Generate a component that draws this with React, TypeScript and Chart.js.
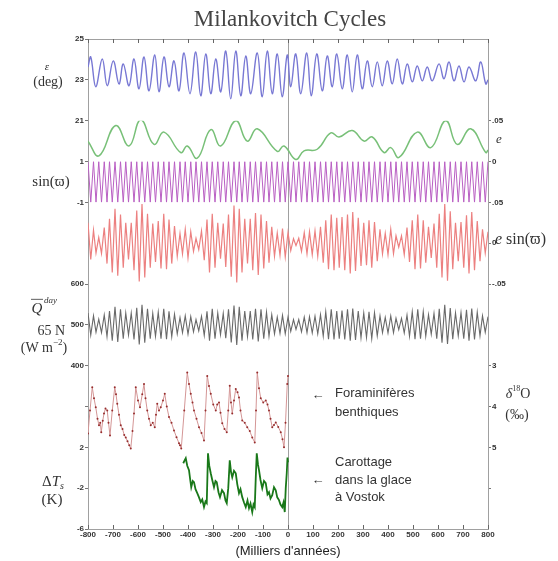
import { useEffect, useRef } from "react";
import { Chart, registerables } from "chart.js";
Chart.register(...registerables);

// ---------- data (kyr, negative = past) ----------
const X_OBL = [-800, -789, -769, -743, -723, -699, -676, -659, -636, -616, -596, -576, -556, -533, -516, -496, -476, -456, -436, -416, -392, -369, -349, -329, -309, -289, -269, -249, -229, -209, -189, -169, -149, -123, -103, -83, -63, -43, -23, -3, 11, 31, 51, 75, 93, 115, 137, 157, 177, 195, 217, 237, 257, 277, 297, 317, 337, 357, 377, 397, 417, 437, 457, 477, 497, 517, 537, 557, 577, 604, 624, 644, 664, 684, 704, 724, 751, 771, 791, 800];
const OBLIQUITY = [23.63, 24.12, 22.66, 24.02, 22.71, 23.93, 22.80, 23.78, 22.71, 24.02, 22.56, 24.12, 22.46, 24.22, 22.41, 24.12, 22.66, 23.93, 22.46, 24.32, 22.32, 24.37, 22.22, 24.27, 22.32, 24.02, 22.41, 24.41, 22.07, 24.41, 22.22, 24.17, 22.32, 24.32, 22.17, 24.41, 22.32, 24.27, 22.17, 24.22, 22.66, 24.27, 22.32, 24.32, 22.22, 24.27, 22.46, 24.17, 22.66, 24.27, 22.56, 24.22, 22.41, 24.22, 22.56, 23.93, 22.66, 23.88, 22.71, 23.93, 22.80, 24.02, 22.80, 23.78, 22.90, 23.68, 22.95, 23.63, 22.95, 23.78, 23.05, 23.88, 22.95, 23.68, 22.90, 23.63, 22.95, 23.88, 22.80, 23.0];

const X_ECC = [-800, -756, -689, -636, -589, -536, -496, -429, -403, -363, -309, -269, -209, -163, -123, -43, -16, 31, 64, 117, 171, 204, 257, 304, 337, 384, 411, 444, 517, 571, 631, 677, 731, 791, 800];
const ECCENTRICITY = [0.025, 0.007, 0.044, 0.019, 0.051, 0.021, 0.036, 0.011, 0.019, 0.004, 0.039, 0.019, 0.050, 0.025, 0.040, 0.0125, 0.019, 0.0025, 0.013, 0.015, 0.035, 0.030, 0.038, 0.025, 0.030, 0.011, 0.017, 0.005, 0.036, 0.017, 0.050, 0.021, 0.040, 0.011, 0.014];

const X_PREC = [-800, -789, -778, -768, -757, -746, -735, -724, -714, -703, -692, -681, -670, -659, -649, -638, -627, -616, -605, -595, -584, -573, -562, -551, -541, -530, -519, -508, -497, -486, -476, -465, -454, -443, -432, -422, -411, -400, -389, -378, -368, -357, -346, -335, -324, -314, -303, -292, -281, -270, -259, -249, -238, -227, -216, -205, -195, -184, -173, -162, -151, -141, -130, -119, -108, -97, -86, -76, -65, -54, -43, -32, -22, -11, 0, 11, 22, 32, 43, 54, 65, 76, 86, 97, 108, 119, 130, 141, 151, 162, 173, 184, 195, 205, 216, 227, 238, 249, 259, 270, 281, 292, 303, 314, 324, 335, 346, 357, 368, 378, 389, 400, 411, 422, 432, 443, 454, 465, 476, 486, 497, 508, 519, 530, 541, 551, 562, 573, 584, 595, 605, 616, 627, 638, 649, 659, 670, 681, 692, 703, 714, 724, 735, 746, 757, 768, 778, 789, 800];
const SIN_VARPI = [1, -1, 1, -1, 1, -1, 1, -1, 1, -1, 1, -1, 1, -1, 1, -1, 1, -1, 1, -1, 1, -1, 1, -1, 1, -1, 1, -1, 1, -1, 1, -1, 1, -1, 1, -1, 1, -1, 1, -1, 1, -1, 1, -1, 1, -1, 1, -1, 1, -1, 1, -1, 1, -1, 1, -1, 1, -1, 1, -1, 1, -1, 1, -1, 1, -1, 1, -1, 1, -1, 1, -1, 1, -1, 1, -1, 1, -1, 1, -1, 1, -1, 1, -1, 1, -1, 1, -1, 1, -1, 1, -1, 1, -1, 1, -1, 1, -1, 1, -1, 1, -1, 1, -1, 1, -1, 1, -1, 1, -1, 1, -1, 1, -1, 1, -1, 1, -1, 1, -1, 1, -1, 1, -1, 1, -1, 1, -1, 1, -1, 1, -1, 1, -1, 1, -1, 1, -1, 1, -1, 1, -1, 1, -1, 1, -1, 1, -1, 1];
const E_SIN_VARPI = [0.025, -0.020, 0.016, -0.012, 0.007, -0.0125, 0.019, -0.025, 0.030, -0.036,
  0.042, -0.040, 0.035, -0.030, 0.025, -0.020, 0.025, -0.033, 0.040, -0.047,
  0.048, -0.042, 0.036, -0.030, 0.024, -0.023, 0.027, -0.031, 0.036, -0.032,
  0.029, -0.025, 0.021, -0.016, 0.012, -0.013, 0.017, -0.018, 0.014, -0.010,
  0.006, -0.008, 0.015, -0.021, 0.029, -0.036, 0.036, -0.030, 0.025, -0.019,
  0.024, -0.029, 0.035, -0.041, 0.046, -0.048, 0.042, -0.036, 0.030, -0.025,
  0.030, -0.033, 0.037, -0.039, 0.035, -0.031, 0.027, -0.024, 0.020, -0.016,
  0.0125, -0.015, 0.018, -0.017, 0.013, -0.009, 0.0055, -0.003, 0.006, -0.010,
  0.013, -0.013, 0.014, -0.014, 0.015, -0.016, 0.020, -0.024, 0.028, -0.032,
  0.035, -0.033, 0.031, -0.030, 0.032, -0.033, 0.035, -0.037, 0.038, -0.034,
  0.031, -0.028, 0.025, -0.027, 0.028, -0.030, 0.026, -0.022, 0.017, -0.013,
  0.012, -0.014, 0.017, -0.013, 0.009, -0.005, 0.009, -0.014, 0.019, -0.023,
  0.028, -0.032, 0.035, -0.031, 0.028, -0.024, 0.020, -0.018, 0.024, -0.030,
  0.036, -0.042, 0.048, -0.046, 0.039, -0.032, 0.025, -0.022, 0.026, -0.030,
  0.034, -0.037, 0.038, -0.033, 0.027, -0.022, 0.017, -0.012, 0.014];
const Q_DAY = [529, 475, 522, 482, 514, 481, 524, 471, 534, 461,
  544, 458, 538, 466, 529, 475, 529, 464, 542, 452,
  549, 456, 539, 466, 528, 472, 531, 466, 539, 465,
  533, 471, 526, 478, 518, 481, 522, 477, 520, 483,
  513, 485, 521, 474, 533, 461, 539, 466, 529, 476,
  528, 467, 538, 457, 547, 451, 544, 461, 534, 471,
  534, 464, 539, 459, 538, 466, 531, 472, 525, 478,
  519, 479, 523, 478, 519, 484, 513, 489, 513, 483,
  519, 481, 520, 480, 521, 478, 525, 472, 532, 465,
  538, 464, 534, 466, 535, 464, 538, 461, 540, 463,
  534, 468, 529, 469, 532, 466, 530, 473, 522, 481,
  518, 480, 522, 481, 516, 488, 516, 480, 524, 472,
  532, 465, 538, 466, 532, 472, 525, 477, 528, 466,
  539, 456, 549, 453, 541, 465, 529, 473, 530, 466,
  537, 461, 540, 464, 531, 473, 522, 482, 520];

const X_D18O = [-800, -792, -783, -776, -769, -762, -756, -751, -747, -741, -736, -730, -723, -718, -712, -703, -693, -688, -683, -676, -669, -662, -655, -649, -642, -635, -629, -622, -616, -609, -600, -592, -583, -576, -570, -563, -556, -549, -541, -533, -528, -523, -516, -509, -500, -493, -485, -476, -466, -456, -446, -436, -432, -427, -415, -403, -396, -389, -382, -376, -366, -356, -346, -336, -330, -323, -316, -309, -299, -289, -283, -276, -270, -263, -254, -245, -239, -233, -228, -223, -216, -209, -202, -196, -190, -183, -173, -163, -153, -143, -133, -128, -123, -116, -109, -99, -89, -82, -76, -70, -63, -56, -49, -39, -29, -22, -16, -10, -3, 0];
const D18O = [4.66, 4.10, 3.53, 3.80, 4.02, 4.30, 4.46, 4.40, 4.63, 4.35, 4.17, 4.05, 4.10, 4.40, 4.71, 4.10, 3.53, 3.70, 3.93, 4.20, 4.46, 4.55, 4.70, 4.76, 4.85, 4.95, 5.03, 4.60, 4.17, 3.53, 3.85, 4.02, 3.70, 3.45, 3.80, 4.10, 4.30, 4.46, 4.40, 4.51, 4.20, 3.93, 4.10, 4.02, 3.85, 3.69, 4.00, 4.26, 4.40, 4.59, 4.75, 4.90, 4.95, 5.03, 4.10, 3.17, 3.45, 3.69, 3.90, 4.10, 4.30, 4.51, 4.65, 4.83, 4.10, 3.25, 3.50, 3.69, 3.95, 4.10, 3.95, 3.90, 4.15, 4.41, 4.55, 4.63, 4.10, 3.49, 3.90, 4.17, 3.85, 3.57, 3.65, 3.78, 4.10, 4.34, 4.40, 4.51, 4.60, 4.76, 4.88, 4.10, 3.17, 3.55, 3.80, 3.90, 3.85, 3.95, 4.10, 4.30, 4.51, 4.45, 4.39, 4.50, 4.63, 4.80, 5.00, 4.40, 3.45, 3.25];

const X_VOSTOK = [-419, -414, -409, -403, -396, -391, -387, -381, -376, -370, -363, -356, -349, -343, -336, -330, -325, -320, -315, -309, -303, -296, -290, -285, -278, -272, -264, -256, -250, -245, -239, -233, -228, -223, -216, -209, -203, -196, -190, -183, -176, -169, -162, -156, -150, -143, -138, -133, -129, -125, -120, -116, -110, -103, -96, -89, -82, -76, -70, -63, -56, -49, -43, -36, -30, -23, -18, -13, -9, -5, -2, 0];
const DELTA_T = [0.44, 0.7, 0.93, 0.2, -0.24, -1.2, -1.90, -1.3, -1.41, -2.1, -2.49, -2.9, -3.37, -3.1, -3.85, -3.3, -3.46, 1.41, 0.2, -0.54, -1.2, -1.90, -1.3, -1.41, -2.4, -2.88, -2.2, -2.49, -3.2, -3.46, -2.0, 0.73, -0.4, -0.93, -0.3, -0.54, -1.6, -2.49, -2.1, -2.88, -3.4, -3.85, -3.2, -3.95, -3.5, -4.34, -3.6, -3.85, -1.0, 1.41, 0.3, -0.24, -1.2, -2.0, -1.3, -1.51, -2.6, -2.39, -3.0, -2.68, -1.9, -2.20, -2.9, -3.17, -3.6, -3.85, -3.4, -4.34, -2.0, -0.54, 1.0, 0.54];

const pts = (xs: number[], ys: number[]) => xs.map((x, i) => ({ x, y: ys[i] }));

const SANS = "'Liberation Sans', Arial, sans-serif";
const SERIF = "'Liberation Serif', 'DejaVu Serif', serif";
const TICK_FONT = { family: SANS, size: 8, weight: "bold" as const };
const TEXT = "#333";

const fmtSmall = (v: number) => {
  const r = Math.round(v * 1000) / 1000;
  if (r === 0) return "0";
  const s = String(Math.abs(r)).replace(/^0/, "");
  return (r < 0 ? "-" : "") + s;
};

function yAxis(opts: any) {
  const left = opts.position === "left";
  return {
    type: "linear",
    position: opts.position,
    stack: left ? "L" : "R",
    stackWeight: opts.stackWeight,
    weight: opts.weight,
    min: opts.min,
    max: opts.max,
    reverse: !!opts.reverse,
    display: opts.display !== false,
    afterFit: (s: any) => { s.width = left ? 24 : 22; },
    border: { display: false },
    grid: { display: true, drawOnChartArea: false, drawTicks: true, tickLength: 3, color: "#777" },
    ticks: {
      stepSize: opts.step,
      font: TICK_FONT,
      color: TEXT,
      padding: 1,
      callback: opts.callback || ((v: number) => String(v)),
    },
  };
}

const decor = {
  id: "decor",
  beforeDatasetsDraw(chart: any) {
    const { ctx, chartArea: ca } = chart;
    const xs = chart.scales.x;
    ctx.save();
    ctx.strokeStyle = "#a0a0a0";
    ctx.lineWidth = 1;
    ctx.strokeRect(ca.left + 0.5, ca.top + 0.5, ca.right - ca.left, ca.bottom - ca.top);
    const x0 = Math.round(xs.getPixelForValue(0)) + 0.5;
    ctx.beginPath();
    ctx.moveTo(x0, ca.top);
    ctx.lineTo(x0, ca.bottom);
    ctx.stroke();
    ctx.strokeStyle = "#666";
    ctx.beginPath();
    for (const t of xs.ticks) {
      const px = Math.round(xs.getPixelForValue(t.value)) + 0.5;
      ctx.moveTo(px, ca.bottom);
      ctx.lineTo(px, ca.bottom - 4);
      ctx.moveTo(px, ca.top);
      ctx.lineTo(px, ca.top + 4);
    }
    ctx.stroke();
    ctx.restore();
  },
  afterDraw(chart: any) {
    const { ctx, chartArea: ca, scales } = chart;
    const L = ca.left;
    const R = ca.right;
    const t = (s: string, x: number, y: number, font: string, align: CanvasTextAlign = "center") => {
      ctx.font = font;
      ctx.textAlign = align;
      ctx.fillText(s, x, y);
    };
    ctx.save();
    ctx.fillStyle = TEXT;
    ctx.textBaseline = "middle";

    // title
    ctx.fillStyle = "#444";
    t("Milankovitch Cycles", (L + R) / 2 + 2, ca.top - 19, `23px ${SERIF}`);
    ctx.fillStyle = TEXT;

    // obliquity
    const yo = scales.yObl.getPixelForValue(23);
    t("ε", L - 41, yo - 13, `italic 11px ${SERIF}`);
    t("(deg)", L - 40, yo + 2, `14px ${SERIF}`);

    // sin(varpi)
    t("sin(ϖ)", L - 37, scales.ySin.getPixelForValue(0), `15px ${SERIF}`);

    // Q day
    const yq = scales.yQ.getPixelForValue(500);
    t("Q", L - 51, yq - 16, `italic 15px ${SERIF}`);
    ctx.strokeStyle = TEXT;
    ctx.lineWidth = 0.8;
    ctx.beginPath();
    ctx.moveTo(L - 57, yq - 25.5);
    ctx.lineTo(L - 45, yq - 25.5);
    ctx.stroke();
    t("day", L - 44, yq - 24, `italic 9px ${SERIF}`, "left");
    t("65 N", L - 23, yq + 6, `14px ${SERIF}`, "right");
    {
      ctx.font = `14px ${SERIF}`;
      const a = "(W m";
      const b = "−2";
      const c = ")";
      const wa = ctx.measureText(a).width;
      ctx.font = `9px ${SERIF}`;
      const wb = ctx.measureText(b).width;
      ctx.font = `14px ${SERIF}`;
      const wc = ctx.measureText(c).width;
      let x = L - 44 - (wa + wb + wc) / 2;
      t(a, x, yq + 23, `14px ${SERIF}`, "left");
      x += wa;
      t(b, x, yq + 18, `9px ${SERIF}`, "left");
      x += wb;
      t(c, x, yq + 23, `14px ${SERIF}`, "left");
    }

    // Delta T
    const yt = scales.yDT.getPixelForValue(-2);
    {
      ctx.font = `15px ${SERIF}`;
      const wd = ctx.measureText("Δ").width;
      ctx.font = `italic 15px ${SERIF}`;
      const wt = ctx.measureText("T").width;
      let x = L - 46;
      t("Δ", x, yt - 6, `15px ${SERIF}`, "left");
      x += wd;
      t("T", x, yt - 6, `italic 15px ${SERIF}`, "left");
      x += wt;
      t("s", x, yt - 2, `italic 10px ${SERIF}`, "left");
    }
    t("(K)", L - 36, yt + 12, `15px ${SERIF}`);

    // right side labels
    t("e", R + 11, scales.yE.getPixelForValue(0.025) - 2, `italic 13px ${SERIF}`);
    {
      const y = scales.yES.getPixelForValue(0) - 3;
      let x = R + 7;
      ctx.font = `italic 16px ${SERIF}`;
      const we = ctx.measureText("e ").width;
      t("e", x, y, `italic 16px ${SERIF}`, "left");
      x += we;
      t("sin(ϖ)", x, y, `16px ${SERIF}`, "left");
    }
    {
      const y = scales.yD18.getPixelForValue(3.7);
      ctx.font = `italic 14px ${SERIF}`;
      const w1 = ctx.measureText("δ").width;
      ctx.font = `8px ${SERIF}`;
      const w2 = ctx.measureText("18").width;
      ctx.font = `14px ${SERIF}`;
      const w3 = ctx.measureText("O").width;
      let x = R + 30 - (w1 + w2 + w3) / 2;
      t("δ", x, y, `italic 14px ${SERIF}`, "left");
      x += w1;
      t("18", x, y - 5, `8px ${SERIF}`, "left");
      x += w2;
      t("O", x, y, `14px ${SERIF}`, "left");
      t("(‰)", R + 29, scales.yD18.getPixelForValue(4.2) + 1, `14px ${SERIF}`);
    }

    // annotations
    const xs = scales.x;
    const ax = xs.getPixelForValue(120);
    const tx = xs.getPixelForValue(188);
    const f = `13px ${SANS}`;
    const yd = scales.yD18;
    ctx.fillStyle = "#333";
    t("←", ax, yd.getPixelForValue(3.73), f);
    t("Foraminifères", tx, yd.getPixelForValue(3.68), f, "left");
    t("benthiques", tx, yd.getPixelForValue(4.15), f, "left");
    const yv = scales.yDT;
    t("←", ax, yv.getPixelForValue(-1.22), f);
    t("Carottage", tx, yv.getPixelForValue(0.54), f, "left");
    t("dans la glace", tx, yv.getPixelForValue(-1.22), f, "left");
    t("à Vostok", tx, yv.getPixelForValue(-2.88), f, "left");
    ctx.restore();
  },
};

export default function App() {
  const ref = useRef<HTMLCanvasElement>(null);
  useEffect(() => {
    document.body.style.margin = "0";
    const line = (label: string, data: any[], yAxisID: string, color: string, width: number, extra: any = {}) => ({
      label, data, yAxisID, borderColor: color, borderWidth: width, pointRadius: 0, fill: false, ...extra,
    });
    const chart = new Chart(ref.current!, {
      type: "line",
      data: {
        datasets: [
          line("obliquity", pts(X_OBL, OBLIQUITY), "yObl", "rgb(120,120,212)", 1.4, { tension: 0.4 }),
          line("e", pts(X_ECC, ECCENTRICITY), "yE", "rgb(120,192,120)", 1.5, { tension: 0.45 }),
          line("sin", pts(X_PREC, SIN_VARPI), "ySin", "rgb(185,95,195)", 1),
          line("esin", pts(X_PREC, E_SIN_VARPI), "yES", "rgb(236,128,128)", 1.2),
          line("Q", pts(X_PREC, Q_DAY), "yQ", "rgb(105,105,105)", 1.1),
          line("d18O", pts(X_D18O, D18O), "yD18", "rgb(212,150,150)", 1, {
            pointRadius: 1, pointBackgroundColor: "rgb(150,45,45)", pointBorderWidth: 0,
          }),
          line("dT", pts(X_VOSTOK, DELTA_T), "yDT", "rgb(25,120,25)", 1.8),
        ],
      },
      options: {
        responsive: false,
        animation: false,
        events: [],
        layout: { padding: { left: 64, right: 48, top: 39, bottom: 0 } },
        plugins: { legend: { display: false }, tooltip: { enabled: false }, title: { display: false } },
        scales: {
          x: {
            type: "linear",
            min: -800,
            max: 800,
            afterFit: (s: any) => { s.height = 32; },
            border: { display: false },
            grid: { display: false, drawTicks: false },
            ticks: { stepSize: 100, autoSkip: false, maxRotation: 0, font: TICK_FONT, color: TEXT, padding: 1 },
            title: { display: true, text: "(Milliers d'années)", font: { family: SANS, size: 13 }, color: "#222", padding: { top: 0, bottom: 2 } },
          },
          // left stack, top to bottom (higher weight = higher)
          yObl: yAxis({ position: "left", stackWeight: 2, weight: 7, min: 21, max: 25, step: 2 }),
          gL1: yAxis({ position: "left", stackWeight: 1, weight: 6, min: 0, max: 1, display: false }),
          ySin: yAxis({ position: "left", stackWeight: 1, weight: 5, min: -1, max: 1, step: 2 }),
          gL2: yAxis({ position: "left", stackWeight: 2, weight: 4, min: 0, max: 1, display: false }),
          yQ: yAxis({ position: "left", stackWeight: 2, weight: 3, min: 400, max: 600, step: 100 }),
          gL3: yAxis({ position: "left", stackWeight: 1, weight: 2, min: 0, max: 1, display: false }),
          yDT: yAxis({ position: "left", stackWeight: 3, weight: 1, min: -6, max: 6, step: 4, callback: (v: number) => (v === 6 ? "" : String(v)) }),
          // right stack, top to bottom (lower weight = higher)
          gR1: yAxis({ position: "right", stackWeight: 2, weight: 1, min: 0, max: 1, display: false }),
          yE: yAxis({ position: "right", stackWeight: 1, weight: 2, min: 0, max: 0.05, step: 0.05, callback: fmtSmall }),
          gR2: yAxis({ position: "right", stackWeight: 1, weight: 3, min: 0, max: 1, display: false }),
          yES: yAxis({ position: "right", stackWeight: 2, weight: 4, min: -0.05, max: 0.05, step: 0.05, callback: fmtSmall }),
          gR3: yAxis({ position: "right", stackWeight: 2, weight: 5, min: 0, max: 1, display: false }),
          yD18: yAxis({ position: "right", stackWeight: 3, weight: 6, min: 3, max: 6, step: 1, reverse: true, callback: (v: number) => (v === 6 ? "" : String(v)) }),
          gR4: yAxis({ position: "right", stackWeight: 1, weight: 7, min: 0, max: 1, display: false }),
        },
      } as any,
      plugins: [decor],
    } as any);
    return () => chart.destroy();
  }, []);
  return (
    <div style={{ width: 558, height: 561 }}>
      <canvas ref={ref} width={558} height={561} />
    </div>
  );
}
